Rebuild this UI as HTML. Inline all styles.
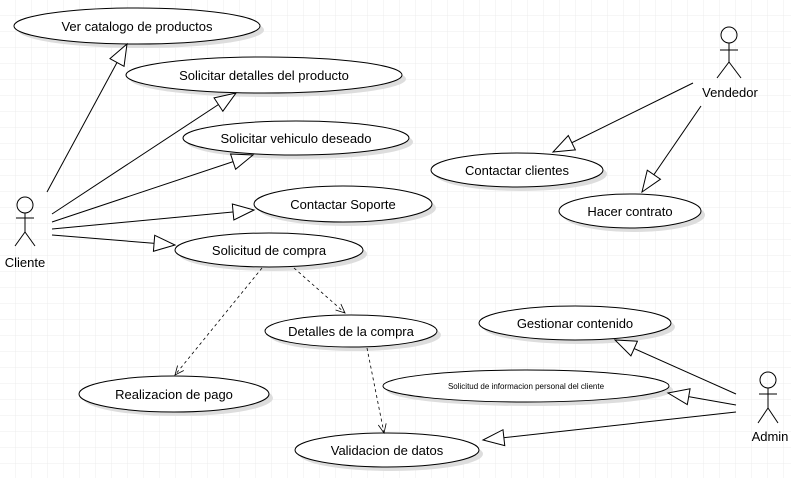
<!DOCTYPE html>
<html><head><meta charset="utf-8"><style>
html,body{margin:0;padding:0;background:#fff}
svg{display:block}
text{font-family:"Liberation Sans",Arial,sans-serif;font-size:13px;fill:#000}
</style></head><body>
<svg width="791" height="478" xmlns="http://www.w3.org/2000/svg">
<defs>
<pattern id="g" width="16" height="16" patternUnits="userSpaceOnUse">
<path d="M16 0V16H0" fill="none" stroke="#ececec" stroke-width="1"/>
</pattern>
<marker id="tri" markerWidth="24" markerHeight="20" refX="22" refY="10" orient="auto" markerUnits="userSpaceOnUse">
<path d="M1,2 L22,10 L1,18 Z" fill="#fff" stroke="#000"/>
</marker>
<marker id="open" markerWidth="12" markerHeight="10" refX="10" refY="5" orient="auto" markerUnits="userSpaceOnUse">
<path d="M1,1 L10,5 L1,9" fill="none" stroke="#000" stroke-width="0.8"/>
</marker>
</defs>
<rect width="791" height="478" fill="url(#g)"/>
<g fill="#ddd">
<ellipse cx="141" cy="30" rx="123" ry="18"/>
<ellipse cx="268" cy="79" rx="138" ry="18"/>
<ellipse cx="300" cy="142" rx="113" ry="17"/>
<ellipse cx="347" cy="208" rx="89" ry="18"/>
<ellipse cx="273" cy="254" rx="94" ry="17"/>
<ellipse cx="355" cy="335" rx="86" ry="16"/>
<ellipse cx="178" cy="398" rx="95" ry="18"/>
<ellipse cx="391" cy="454" rx="92" ry="17"/>
<ellipse cx="579" cy="327" rx="96" ry="17"/>
<ellipse cx="530" cy="390" rx="143" ry="16"/>
<ellipse cx="521" cy="174" rx="86" ry="17"/>
<ellipse cx="634" cy="215" rx="71" ry="17"/>
</g>
<g fill="#fff" stroke="#000" stroke-width="1">
<ellipse cx="137" cy="26" rx="123" ry="18"/>
<ellipse cx="264" cy="75" rx="138" ry="18"/>
<ellipse cx="296" cy="138" rx="113" ry="17"/>
<ellipse cx="343" cy="204" rx="89" ry="18"/>
<ellipse cx="269" cy="250" rx="94" ry="17"/>
<ellipse cx="351" cy="331" rx="86" ry="16"/>
<ellipse cx="174" cy="394" rx="95" ry="18"/>
<ellipse cx="387" cy="450" rx="92" ry="17"/>
<ellipse cx="575" cy="323" rx="96" ry="17"/>
<ellipse cx="526" cy="386" rx="143" ry="16"/>
<ellipse cx="517" cy="170" rx="86" ry="17"/>
<ellipse cx="630" cy="211" rx="71" ry="17"/>
</g>
<g text-anchor="middle">
<text x="137" y="31">Ver catalogo de productos</text>
<text x="264" y="80">Solicitar detalles del producto</text>
<text x="296" y="143">Solicitar vehiculo deseado</text>
<text x="343" y="209">Contactar Soporte</text>
<text x="269" y="255">Solicitud de compra</text>
<text x="351" y="336">Detalles de la compra</text>
<text x="174" y="399">Realizacion de pago</text>
<text x="387" y="455">Validacion de datos</text>
<text x="575" y="328">Gestionar contenido</text>
<text x="526" y="389" style="font-size:8px">Solicitud de informacion personal del cliente</text>
<text x="517" y="175">Contactar clientes</text>
<text x="630" y="216">Hacer contrato</text>
<text x="25" y="267">Cliente</text>
<text x="730" y="97">Vendedor</text>
<text x="770" y="441">Admin</text>
</g>
<g stroke="#000" fill="none" stroke-width="1">
<line x1="47" y1="192" x2="127" y2="44" marker-end="url(#tri)"/>
<line x1="52" y1="214" x2="236" y2="93" marker-end="url(#tri)"/>
<line x1="52" y1="222" x2="253" y2="155" marker-end="url(#tri)"/>
<line x1="52" y1="229" x2="254" y2="210" marker-end="url(#tri)"/>
<line x1="52" y1="235" x2="175" y2="245" marker-end="url(#tri)"/>
<line x1="693" y1="83" x2="553" y2="152" marker-end="url(#tri)"/>
<line x1="701" y1="106" x2="642" y2="192" marker-end="url(#tri)"/>
<line x1="736" y1="394" x2="615" y2="340" marker-end="url(#tri)"/>
<line x1="736" y1="405" x2="668" y2="393" marker-end="url(#tri)"/>
<line x1="736" y1="412" x2="483" y2="440" marker-end="url(#tri)"/>
<g stroke-dasharray="3,3" stroke-width="0.8">
<line x1="262" y1="268" x2="175" y2="375" marker-end="url(#open)"/>
<line x1="294" y1="268" x2="345" y2="313" marker-end="url(#open)"/>
<line x1="367" y1="348" x2="384" y2="433" marker-end="url(#open)"/>
</g>
<!-- actors -->
<g>
<circle cx="25" cy="205" r="8"/><line x1="25" y1="213" x2="25" y2="232"/><line x1="16" y1="218" x2="34" y2="218"/><line x1="25" y1="232" x2="15" y2="246"/><line x1="25" y1="232" x2="35" y2="246"/>
</g>
<g>
<circle cx="729" cy="35" r="8"/><line x1="729" y1="43" x2="729" y2="62"/><line x1="720" y1="50" x2="738" y2="50"/><line x1="729" y1="62" x2="717" y2="78"/><line x1="729" y1="62" x2="741" y2="78"/>
</g>
<g>
<circle cx="768" cy="380" r="8"/><line x1="768" y1="388" x2="768" y2="408"/><line x1="759" y1="394" x2="777" y2="394"/><line x1="768" y1="408" x2="758" y2="423"/><line x1="768" y1="408" x2="778" y2="423"/>
</g>
</g>
</svg>
</body></html>
